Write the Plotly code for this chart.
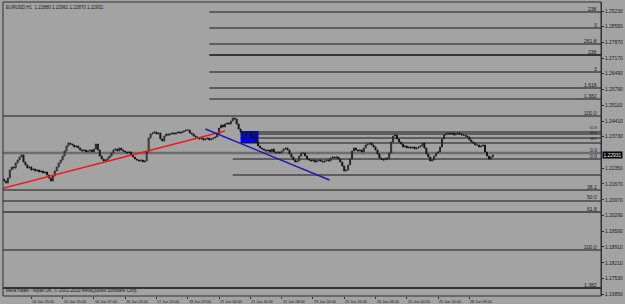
import plotly.graph_objects as go

# ---------------- data ----------------
closes = [
    1.21837, 1.21881, 1.21794, 1.21706, 1.21925, 1.22275, 1.22406, 1.22362, 1.22581, 1.22712,
    1.22844, 1.22931, 1.22625, 1.22494, 1.22362, 1.22406, 1.22275, 1.22319, 1.22231, 1.22275,
    1.22187, 1.22231, 1.22144, 1.22187, 1.22056, 1.21925, 1.21794, 1.22012, 1.22231, 1.22406,
    1.22581, 1.22712, 1.22887, 1.23106, 1.23325, 1.23456, 1.23412, 1.23368, 1.23281, 1.23325,
    1.23237, 1.23150, 1.23106, 1.23150, 1.23062, 1.23106, 1.23150, 1.23062, 1.23193, 1.23412,
    1.23150, 1.22887, 1.22756, 1.22669, 1.22712, 1.22800, 1.22887, 1.23018, 1.23150, 1.23193,
    1.23106, 1.23237, 1.23150, 1.23106, 1.23062, 1.23018, 1.23062, 1.22931, 1.22844, 1.22756,
    1.22712, 1.22669, 1.22712, 1.22625, 1.22669, 1.23062, 1.23675, 1.23850, 1.23893, 1.23937,
    1.23850, 1.23893, 1.23631, 1.23543, 1.23762, 1.23850, 1.23806, 1.23850, 1.23893, 1.23850,
    1.23893, 1.23937, 1.23893, 1.23937, 1.23981, 1.24024, 1.24024, 1.23893, 1.23850, 1.23762,
    1.23718, 1.23675, 1.23631, 1.23675, 1.23587, 1.23631, 1.23675, 1.23587, 1.23631, 1.23675,
    1.23718, 1.23850, 1.24112, 1.24243, 1.24156, 1.24287, 1.24331, 1.24287, 1.24418, 1.24549,
    1.24506, 1.24287, 1.24068, 1.23937, 1.23850, 1.23893, 1.23806, 1.23850, 1.23762, 1.23718,
    1.23675, 1.23500, 1.23325, 1.23237, 1.23193, 1.23150, 1.23106, 1.23150, 1.23062, 1.23193,
    1.23062, 1.23018, 1.23062, 1.23018, 1.23106, 1.23193, 1.23237, 1.23150, 1.22975, 1.22844,
    1.22712, 1.22625, 1.22669, 1.22887, 1.23018, 1.23018, 1.22887, 1.22756, 1.22712, 1.22669,
    1.22712, 1.22625, 1.22669, 1.22712, 1.22669, 1.22625, 1.22669, 1.22712, 1.22669, 1.22800,
    1.22844, 1.22800, 1.22844, 1.22756, 1.22625, 1.22450, 1.22231, 1.22275, 1.22494, 1.22756,
    1.23106, 1.23237, 1.23150, 1.23106, 1.23150, 1.23062, 1.23237, 1.23368, 1.23412, 1.23456,
    1.23368, 1.23281, 1.23150, 1.22975, 1.22800, 1.22756, 1.22712, 1.22800, 1.22756, 1.23018,
    1.23500, 1.23762, 1.23806, 1.23631, 1.23500, 1.23412, 1.23281, 1.23325, 1.23237, 1.23281,
    1.23237, 1.23281, 1.23193, 1.23237, 1.23281, 1.23325, 1.23456, 1.23237, 1.22975, 1.22844,
    1.22669, 1.22712, 1.22887, 1.23018, 1.23062, 1.23281, 1.23631, 1.23806, 1.23850, 1.23893,
    1.23850, 1.23893, 1.23806, 1.23850, 1.23893, 1.23850, 1.23806, 1.23806, 1.23762, 1.23718,
    1.23587, 1.23500, 1.23456, 1.23368, 1.23368, 1.23281, 1.23325, 1.23368, 1.23062, 1.22887,
    1.22756, 1.22844, 1.22931,
]
first_open = 1.21800

time_tick_bars = [0, 16, 32, 48, 64, 80, 96, 112, 128, 144, 160, 176, 192, 208, 224, 240]
time_tick_labels = ["14 Jun 2010", "14 Jun 23:00", "15 Jun 15:00", "16 Jun 07:00",
                    "16 Jun 23:00", "17 Jun 15:00", "18 Jun 07:00", "21 Jun 00:00",
                    "21 Jun 16:00", "22 Jun 08:00", "23 Jun 00:00", "23 Jun 16:00",
                    "24 Jun 08:00", "25 Jun 00:00", "25 Jun 16:00", "28 Jun 09:00"]

# price scale labels (1.23050 is hidden behind the current-price marker)
price_ticks = [1.29230, 1.28550, 1.27870, 1.27170, 1.26490, 1.25790, 1.25110, 1.24410,
               1.23730, 1.22350, 1.21670, 1.20970, 1.20290, 1.19590, 1.18910,
               1.18210, 1.17530, 1.16850]

# fibo levels: price, label, first bar (None = whole width)
fib_prices = [1.29186, 1.28486, 1.27786, 1.27305, 1.26562, 1.25862, 1.25380,
              1.24637, 1.23937, 1.23850, 1.23675, 1.23456, 1.23018, 1.22756,
              1.22056, 1.21400, 1.20919, 1.20437, 1.18775, 1.17113]
fib_labels = ["238", "3", "261.8", "238", "3", "1.618", "1.382",
              "100.0", "61.8", "50.0", "38.2", "", "0.0", "0.0",
              "", "38.2", "50.0", "61.8", "100.0", "1.382"]
fib_start_bar = [107, 107, 107, 107, 107, 107, 107,
                 None, 123, 123, 123, 123, None, 119,
                 119, None, None, None, None, None]

red_trend_bars = [0, 115]
red_trend_prices = [1.21443, 1.23981]
blue_trend_bars = [105, 168.5]
blue_trend_prices = [1.24068, 1.21837]
box_bars = [123, 132.2]
box_prices = [1.23456, 1.23981]
vline_bar = 119.5
vline_prices = [1.22800, 1.23937]

title_text = "EURUSD,H1  1.22880 1.22961 1.22870 1.22931"
copyright_text = "MetaTrader - Alpari UK, © 2001-2010 MetaQuotes Software Corp."
current_price = 1.22931

# ---------------- figure ----------------
n = len(closes)
bars = list(range(n))
opens = [first_open] + closes[:-1]
highs = [max(o, c) for o, c in zip(opens, closes)]
lows = [min(o, c) for o, c in zip(opens, closes)]

BG = "#a3a3a3"
FONT = "Liberation Sans"
x_range = [1.52, 307.3]
y_range = [1.16763, 1.29624]

# tightly stacked labels (61.8 / 50.0 / 38.2 of the small retracement): stagger them
stacked_shift = {8: 4.0, 9: 1.3, 10: -0.8}

fig = go.Figure()
fig.add_trace(go.Candlestick(
    x=bars, open=opens, high=highs, low=lows, close=closes,
    increasing=dict(line=dict(color="#262626", width=1), fillcolor="#c4c4c4"),
    decreasing=dict(line=dict(color="#161616", width=1), fillcolor="#161616"),
    whiskerwidth=0, hoverinfo="skip", showlegend=False,
))

shapes = []
shapes.append(dict(type="rect", xref="x", yref="y", x0=box_bars[0], x1=box_bars[1],
                   y0=box_prices[0], y1=box_prices[1], fillcolor="#0000ff",
                   line=dict(width=0), layer="below"))
annotations = []
for k, (p, lab, sb) in enumerate(zip(fib_prices, fib_labels, fib_start_bar)):
    if abs(p - 1.23018) < 1e-6:
        col, w = "#6e6e6e", 2.6
    elif abs(p - 1.27305) < 1e-6 or abs(p - 1.17113) < 1e-6:
        col, w = "#101010", 1.6
    elif abs(p - 1.20437) < 1e-6:
        col, w = "#3a3a3a", 1.5
    else:
        col, w = "#1a1a1a", 1.1
    if sb is None:
        shapes.append(dict(type="line", xref="paper", yref="y", x0=0, x1=1, y0=p, y1=p,
                           line=dict(color=col, width=w), layer="below"))
    else:
        shapes.append(dict(type="line", xref="x", yref="y", x0=sb, x1=x_range[1], y0=p, y1=p,
                           line=dict(color=col, width=w), layer="below"))
    if lab:
        if k in stacked_shift:
            annotations.append(dict(xref="paper", yref="y", x=1, y=p, text=lab, showarrow=False,
                                    xanchor="right", yanchor="middle", xshift=-2,
                                    yshift=stacked_shift[k],
                                    font=dict(family=FONT, size=3.5, color="#1a1a1a")))
        else:
            annotations.append(dict(xref="paper", yref="y", x=1, y=p, text=lab, showarrow=False,
                                    xanchor="right", yanchor="bottom", xshift=-2, yshift=-1.5,
                                    font=dict(family=FONT, size=5, color="#1a1a1a")))

shapes.append(dict(type="line", xref="x", yref="y", x0=red_trend_bars[0], x1=red_trend_bars[1],
                   y0=red_trend_prices[0], y1=red_trend_prices[1],
                   line=dict(color="#f01818", width=1.3)))
shapes.append(dict(type="line", xref="x", yref="y", x0=blue_trend_bars[0], x1=blue_trend_bars[1],
                   y0=blue_trend_prices[0], y1=blue_trend_prices[1],
                   line=dict(color="#1c1cb4", width=1.4)))
shapes.append(dict(type="line", xref="x", yref="y", x0=vline_bar, x1=vline_bar,
                   y0=vline_prices[0], y1=vline_prices[1],
                   line=dict(color="#d89090", width=1, dash="dot")))
shapes.append(dict(type="rect", xref="paper", yref="paper", x0=0, x1=1, y0=0, y1=1,
                   line=dict(color="#303030", width=1)))

for b, lab in zip(time_tick_bars, time_tick_labels):
    annotations.append(dict(xref="x", yref="paper", x=b, y=0, text=lab, showarrow=False,
                            xanchor="left", yanchor="top", xshift=-1, yshift=-1.5,
                            font=dict(family=FONT, size=3.8, color="#1a1a1a")))

annotations.append(dict(xref="paper", yref="paper", x=0, y=1, text=title_text, showarrow=False,
                        xanchor="left", yanchor="top", xshift=1, yshift=-1,
                        font=dict(family=FONT, size=4.5, color="#1a1a1a")))
annotations.append(dict(xref="paper", yref="paper", x=0, y=0, text=copyright_text, showarrow=False,
                        xanchor="left", yanchor="bottom", xshift=1, yshift=1.5,
                        font=dict(family=FONT, size=4.5, color="#1a1a1a")))
annotations.append(dict(xref="paper", yref="y", x=1, y=current_price,
                        text=f"{current_price:.5f}", showarrow=False,
                        xanchor="left", yanchor="middle", xshift=1,
                        bgcolor="#000000", borderpad=0.5,
                        font=dict(family=FONT, size=4.9, color="#ffffff")))

fig.update_layout(
    width=625, height=304,
    margin=dict(l=3, r=18, t=2, b=8, pad=0),
    paper_bgcolor=BG, plot_bgcolor=BG,
    shapes=shapes, annotations=annotations,
    showlegend=False,
    xaxis=dict(range=x_range, showgrid=False, zeroline=False, rangeslider=dict(visible=False),
               tickmode="array", tickvals=time_tick_bars, ticktext=[""] * len(time_tick_bars),
               ticks="outside", ticklen=2, tickcolor="#303030", showticklabels=False,
               fixedrange=True),
    yaxis=dict(range=y_range, side="right", showgrid=False, zeroline=False,
               tickmode="array", tickvals=price_ticks,
               ticktext=[f"{v:.5f}" for v in price_ticks],
               ticks="outside", ticklen=2, tickcolor="#303030",
               tickfont=dict(family=FONT, size=4.9, color="#1a1a1a"),
               showline=True, linecolor="#303030", linewidth=1, fixedrange=True),
)

fig.write_html("out.html", config={"displayModeBar": False})
